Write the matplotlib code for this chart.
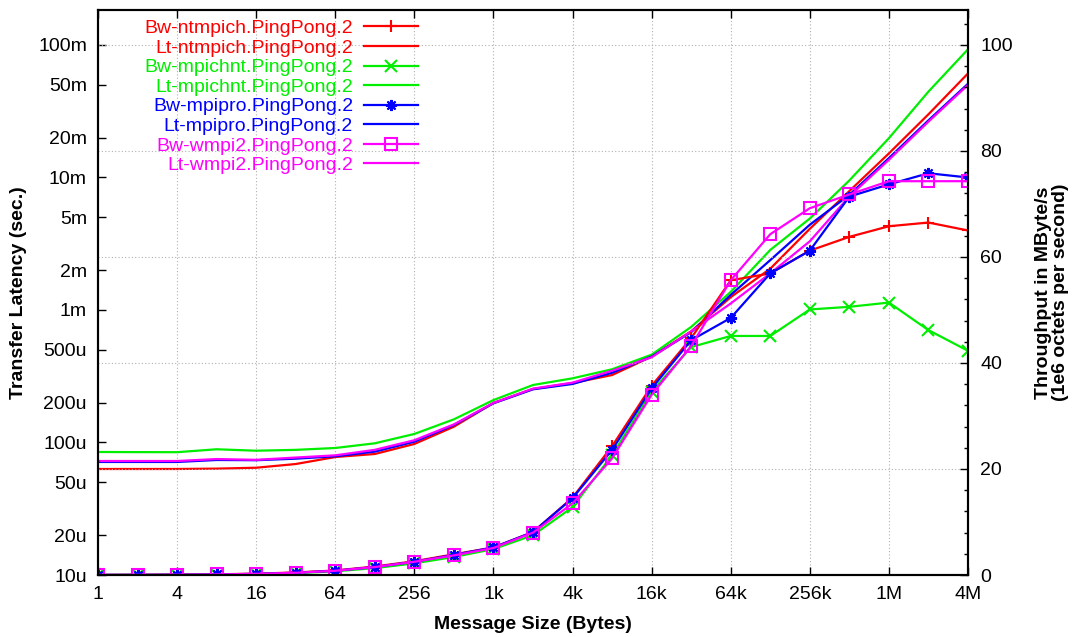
import matplotlib
matplotlib.use('Agg')
import matplotlib.pyplot as plt
import matplotlib.ticker as ticker

plt.rcParams['font.family'] = ['Liberation Sans', 'DejaVu Sans']

# message sizes 1 .. 4M bytes
sizes = [1, 2, 4, 8, 16, 32, 64, 128, 256, 512, 1024, 2048, 4096, 8192, 16384,
         32768, 65536, 131072, 262144, 524288, 1048576, 2097152, 4194304]

# throughput in MByte/s (right axis)
bw_ntmpich = [0.016, 0.032, 0.064, 0.13, 0.25, 0.48, 0.85, 1.6, 2.6, 3.9, 5.2, 8.1,
              14.6, 24.3, 35.7, 44.7, 55.6, 56.9, 61.2, 63.8, 65.8, 66.5, 65.0]
bw_mpichnt = [0.012, 0.024, 0.047, 0.09, 0.18, 0.36, 0.70, 1.3, 2.2, 3.4, 4.9, 7.5,
              12.8, 22.6, 34.6, 43.0, 45.1, 45.1, 50.1, 50.6, 51.4, 46.2, 42.3]
bw_mpipro = [0.014, 0.028, 0.056, 0.11, 0.22, 0.42, 0.81, 1.5, 2.5, 3.8, 5.2, 8.1,
             14.5, 23.6, 35.2, 44.3, 48.5, 56.9, 61.2, 71.4, 73.7, 75.8, 75.0]
bw_wmpi2 = [0.014, 0.027, 0.055, 0.11, 0.22, 0.42, 0.80, 1.5, 2.5, 3.7, 5.1, 8.0,
            13.5, 22.0, 34.0, 43.2, 55.6, 64.3, 69.2, 71.8, 74.3, 74.3, 74.3]

# transfer latency in seconds (left axis)
lt_ntmpich = [63.1e-6, 63.1e-6, 63.1e-6, 63.5e-6, 64.5e-6, 68.8e-6, 77.7e-6, 81.9e-6,
              97.5e-6, 131.6e-6, 198.7e-6, 253.5e-6, 281e-6, 323e-6, 445e-6, 690e-6,
              1.25e-3, 2.05e-3, 4.1e-3, 7.9e-3, 15.2e-3, 30e-3, 61e-3]
lt_mpichnt = [84.8e-6, 84.6e-6, 84.5e-6, 88.9e-6, 86.7e-6, 88.0e-6, 90.9e-6, 98.6e-6,
              116e-6, 149.6e-6, 209e-6, 271.6e-6, 305e-6, 357e-6, 460e-6, 745e-6,
              1.37e-3, 2.84e-3, 4.9e-3, 9.5e-3, 19.8e-3, 44.5e-3, 92.8e-3]
lt_mpipro = [71.3e-6, 71.3e-6, 71.3e-6, 73.8e-6, 73.5e-6, 75.5e-6, 78.7e-6, 85.3e-6,
             101.4e-6, 135.5e-6, 197.6e-6, 252e-6, 276.5e-6, 336e-6, 445e-6, 680e-6,
             1.3e-3, 2.38e-3, 4.4e-3, 7.4e-3, 14e-3, 27e-3, 51e-3]
lt_wmpi2 = [72.5e-6, 72.5e-6, 72.5e-6, 75e-6, 74e-6, 77e-6, 80e-6, 88e-6,
            104e-6, 137e-6, 199e-6, 255e-6, 283e-6, 348e-6, 440e-6, 690e-6,
            1.12e-3, 1.89e-3, 3.3e-3, 7.2e-3, 13.6e-3, 26.4e-3, 50e-3]

x_ticks = [1, 4, 16, 64, 256, 1024, 4096, 16384, 65536, 262144, 1048576, 4194304]
x_labels = ['1', '4', '16', '64', '256', '1k', '4k', '16k', '64k', '256k', '1M', '4M']
y_ticks = [10e-6, 20e-6, 50e-6, 100e-6, 200e-6, 500e-6, 1e-3, 2e-3, 5e-3,
           10e-3, 20e-3, 50e-3, 100e-3]
y_labels = ['10u', '20u', '50u', '100u', '200u', '500u', '1m', '2m', '5m',
            '10m', '20m', '50m', '100m']
y2_ticks = [0, 20, 40, 60, 80, 100]

fig = plt.figure(figsize=(10.72, 6.37), dpi=100)
ax = fig.add_axes([98 / 1072, 1 - 575 / 637, 870 / 1072, 565 / 637])
ax2 = ax.twinx()

fs = 14
lw = 1.6
grid_kw = dict(color='#b0b0b0', linestyle=(0, (1, 2)), linewidth=0.8)

series = [
    ('ntmpich', bw_ntmpich, lt_ntmpich, '#ff0000', '+'),
    ('mpichnt', bw_mpichnt, lt_mpichnt, '#00ee00', 'x'),
    ('mpipro', bw_mpipro, lt_mpipro, '#0000ff', (8, 2, 0)),
    ('wmpi2', bw_wmpi2, lt_wmpi2, '#ff00ff', 's'),
]

handles = []
for name, bw, lt, col, mk in series:
    hb, = ax2.plot(sizes, bw, color=col, lw=lw, marker=mk, markersize=8,
                   markerfacecolor='none', markeredgecolor=col, markeredgewidth=1.5,
                   label='Bw-%s.PingPong.2' % name)
    hl, = ax.plot(sizes, lt, color=col, lw=lw, label='Lt-%s.PingPong.2' % name)
    handles += [hb, hl]

ax.set_xscale('log', base=2)
ax.set_yscale('log')
ax.set_xlim(1, 4194304)
ax.set_ylim(1e-5, 0.1837)
ax2.set_ylim(0, 106.6)

ax.xaxis.set_major_locator(ticker.FixedLocator(x_ticks))
ax.xaxis.set_major_formatter(ticker.FixedFormatter(x_labels))
ax.xaxis.set_minor_locator(ticker.NullLocator())
ax.yaxis.set_major_locator(ticker.FixedLocator(y_ticks))
ax.yaxis.set_major_formatter(ticker.FixedFormatter(y_labels))
ax.yaxis.set_minor_locator(ticker.NullLocator())
ax2.yaxis.set_major_locator(ticker.FixedLocator(y2_ticks))
ax2.yaxis.set_minor_locator(ticker.MultipleLocator(4))

ax.tick_params(axis='x', which='both', direction='in', top=True, length=6, width=1,
               pad=8, labelsize=fs)
ax.tick_params(axis='y', which='both', direction='in', right=False, length=6, width=1,
               pad=8, labelsize=fs)
ax2.tick_params(axis='y', which='major', direction='in', length=6, width=1, pad=9,
                labelsize=fs)
ax2.tick_params(axis='y', which='minor', direction='in', length=3, width=1)

ax.grid(axis='x', **grid_kw)
ax2.grid(axis='y', **grid_kw)
ax2.set_axisbelow(True)

for sp in ax.spines.values():
    sp.set_linewidth(1.5)
for sp in ax2.spines.values():
    sp.set_linewidth(1.5)

ax.set_xlabel('Message Size (Bytes)', fontsize=fs, fontweight='bold', labelpad=9)
ax.set_ylabel('Transfer Latency (sec.)', fontsize=fs, fontweight='bold', labelpad=8)
ax2.set_ylabel('Throughput in MByte/s\n(1e6 octets per second)', fontsize=fs,
               fontweight='bold', labelpad=16, linespacing=1.0)

leg = ax2.legend(handles=handles, loc='upper right', bbox_to_anchor=(0.368, 0.983),
                 frameon=False, markerfirst=False, labelcolor='linecolor',
                 fontsize=fs, handlelength=2.8, handletextpad=0.55,
                 labelspacing=0.1, borderpad=0, borderaxespad=0)

fig.savefig('out.png', dpi=100)
